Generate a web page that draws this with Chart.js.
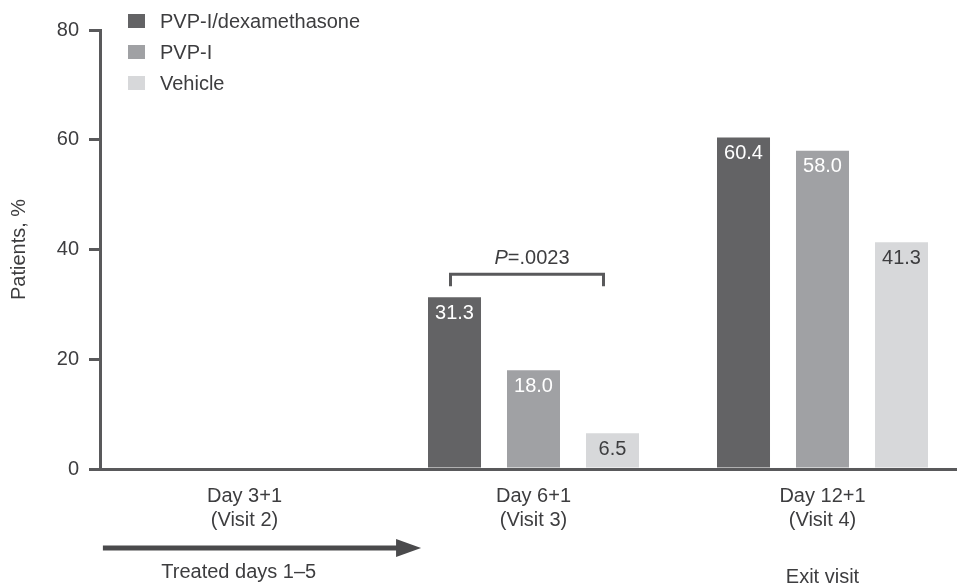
<!DOCTYPE html>
<html>
<head>
<meta charset="utf-8">
<script src="https://cdn.jsdelivr.net/npm/chart.js@4.4.1/dist/chart.umd.min.js"></script>
<style>
  html, body { margin: 0; padding: 0; background: #fff; overflow: hidden; }
  #wrap { width: 967px; height: 585px; }
</style>
</head>
<body>
<div id="wrap"><canvas id="bar-chart"></canvas></div>
<script>
var visits = [['Day 3+1', '(Visit 2)'], ['Day 6+1', '(Visit 3)'], ['Day 12+1', '(Visit 4)']];
var seriesNames = ['PVP-I/dexamethasone', 'PVP-I', 'Vehicle'];
var pvpDex = [null, 31.3, 60.4];
var pvp = [null, 18.0, 58.0];
var vehicle = [null, 6.5, 41.3];
var yTicks = [0, 20, 40, 60, 80];
var pValue = '=.0023';

var FONT = '"Liberation Sans", Arial, sans-serif';
var TXT = '#3d3d3f';
var AXIS = '#59595b';
var colors = ['#636365', '#a0a1a4', '#d7d8da'];
var labelColors = ['#ffffff', '#ffffff', '#3d3d3f'];

var extras = {
  id: 'extras',
  afterDatasetsDraw: function(chart) {
    var ctx = chart.ctx;
    var x = chart.scales.x, y = chart.scales.y;
    var area = chart.chartArea;
    ctx.save();
    ctx.font = '20px ' + FONT;

    // value labels inside top of bars
    ctx.textAlign = 'center';
    ctx.textBaseline = 'middle';
    chart.data.datasets.forEach(function(ds, i) {
      chart.getDatasetMeta(i).data.forEach(function(bar, j) {
        if (ds.data[j] == null) return;
        ctx.fillStyle = labelColors[i];
        ctx.fillText(ds.data[j].toFixed(1), bar.x, bar.y + 16);
      });
    });

    // legend
    chart.data.datasets.forEach(function(ds, i) {
      var cy = 21 + i * 31;
      ctx.fillStyle = ds.backgroundColor;
      ctx.fillRect(128, cy - 7, 17, 14);
      ctx.fillStyle = TXT;
      ctx.textAlign = 'left';
      ctx.fillText(ds.label, 160, cy + 1);
    });

    // significance bracket between PVP-I/dex and vehicle at Day 6
    var b1 = chart.getDatasetMeta(0).data[1];
    var b3 = chart.getDatasetMeta(2).data[1];
    var bl = b1.x - 4, br = b3.x - 9;
    var top = y.getPixelForValue(35.5), leg = y.getPixelForValue(33.3);
    ctx.strokeStyle = AXIS;
    ctx.lineWidth = 3;
    ctx.beginPath();
    ctx.moveTo(bl, leg); ctx.lineTo(bl, top); ctx.lineTo(br, top); ctx.lineTo(br, leg);
    ctx.stroke();
    var cx = (bl + br) / 2 + 5;
    ctx.font = 'italic 20px ' + FONT;
    var wP = ctx.measureText('P').width;
    ctx.font = '20px ' + FONT;
    var wR = ctx.measureText(pValue).width;
    var sx = cx - (wP + wR) / 2;
    ctx.fillStyle = TXT;
    ctx.textAlign = 'left';
    ctx.font = 'italic 20px ' + FONT;
    ctx.fillText('P', sx, top - 16);
    ctx.font = '20px ' + FONT;
    ctx.fillText(pValue, sx + wP, top - 16);

    // treatment arrow
    var ay = area.bottom + 79;
    var ax0 = x.getPixelForValue(-0.49), ax1 = x.getPixelForValue(0.611);
    ctx.fillStyle = '#4a4a4c';
    ctx.fillRect(ax0, ay - 2.5, ax1 - ax0 - 22, 5);
    ctx.beginPath();
    ctx.moveTo(ax1 - 25, ay - 9); ctx.lineTo(ax1, ay); ctx.lineTo(ax1 - 25, ay + 9);
    ctx.closePath();
    ctx.fill();

    ctx.fillStyle = TXT;
    ctx.textAlign = 'center';
    ctx.fillText('Treated days 1\u20135', x.getPixelForValue(-0.02), area.bottom + 103);
    ctx.fillText('Exit visit', x.getPixelForValue(2), area.bottom + 108);
    ctx.restore();
  }
};

new Chart(document.getElementById('bar-chart'), {
  type: 'bar',
  data: {
    labels: visits,
    datasets: [
      { label: seriesNames[0], data: pvpDex, backgroundColor: colors[0] },
      { label: seriesNames[1], data: pvp, backgroundColor: colors[1] },
      { label: seriesNames[2], data: vehicle, backgroundColor: colors[2] }
    ]
  },
  options: {
    responsive: true,
    maintainAspectRatio: false,
    animation: false,
    events: [],
    categoryPercentage: 0.82,
    barPercentage: 0.671,
    layout: { padding: { top: 30, left: 0, right: 0, bottom: 0 } },
    plugins: {
      legend: { display: false },
      tooltip: { enabled: false }
    },
    scales: {
      x: {
        grid: { display: false, drawTicks: false },
        border: { display: true, color: AXIS, width: 3 },
        ticks: {
          color: TXT,
          padding: 15,
          font: { family: FONT, size: 20, lineHeight: 1.2 }
        },
        afterFit: function(scale) { scale.height = 116; }
      },
      y: {
        min: 0,
        max: 80,
        afterBuildTicks: function(scale) {
          scale.ticks = yTicks.map(function(v) { return { value: v }; });
        },
        grid: { drawOnChartArea: false, drawTicks: true, tickLength: 11, color: AXIS, lineWidth: 3 },
        border: { display: true, color: AXIS, width: 3 },
        ticks: {
          color: TXT,
          padding: 10,
          font: { family: FONT, size: 20 }
        },
        title: {
          display: true,
          text: 'Patients, %',
          color: TXT,
          padding: { top: 9, bottom: 0 },
          font: { family: FONT, size: 20, lineHeight: 1 }
        },
        afterFit: function(scale) { scale.width = 100; }
      }
    }
  },
  plugins: [extras]
});
</script>
</body>
</html>
